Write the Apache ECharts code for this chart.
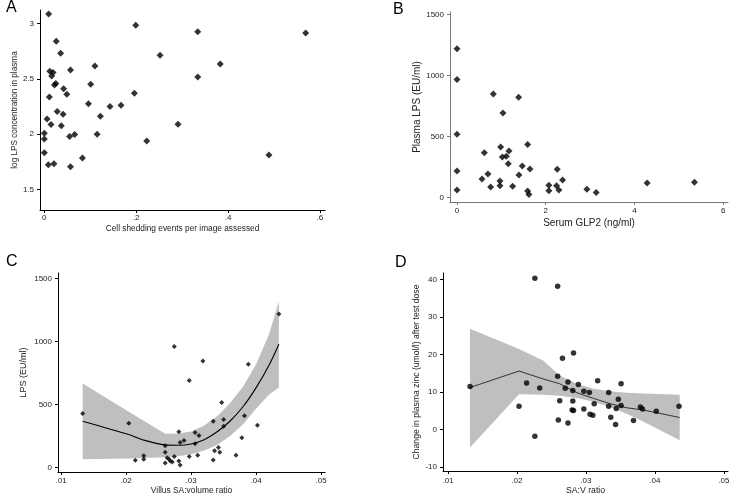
<!DOCTYPE html>
<html><head><meta charset="utf-8">
<script src="https://cdn.jsdelivr.net/npm/echarts@6/dist/echarts.min.js"></script>
<style>html,body{margin:0;padding:0;background:#fff}#c{width:738px;height:496px}</style>
</head><body><div id="c"></div>
<script>
// Panel A
const aX=[0.0094,0.199,0.334,0.569,0.026,0.0355,0.252,0.383,0.012,0.019,0.057,0.110,0.016,0.334,0.022,0.025,0.042,0.101,0.049,0.196,0.011,0.096,0.143,0.167,0.028,0.041,0.122,0.006,0.0145,0.037,0.291,0.0,0.0,0.055,0.066,0.115,0.223,0.0,0.489,0.083,0.0087,0.021,0.057];
const aY=[3.087,2.985,2.928,2.916,2.84,2.732,2.714,2.636,2.569,2.557,2.581,2.617,2.527,2.518,2.446,2.458,2.41,2.452,2.361,2.37,2.337,2.274,2.25,2.262,2.205,2.181,2.163,2.136,2.087,2.075,2.09,2.009,1.955,1.979,1.997,2.0,1.937,1.831,1.81,1.783,1.723,1.732,1.705];
const aXTicks=[0,0.2,0.4,0.6];
const aYTicks=[1.5,2,2.5,3];
// Panel B
const bX=[0,0,0,0,0,0.818,1.389,1.036,0.563,0.616,0.698,0.758,0.983,0.968,0.968,1.021,1.111,1.171,1.156,1.254,1.396,1.471,1.592,1.644,1.592,1.622,2.072,2.072,2.26,2.245,2.297,2.38,2.928,3.138,4.287,5.353];
const bY=[1219,966,518,218,63,848,821,693,153,368,194,87,415,136,98,333,338,382,278,93,185,259,434,235,55,25,101,57,232,98,63,145,68,41,120,125];
const bXTicks=[0,2,4,6];
const bYTicks=[0,500,1000,1500];
// Panel C
const cX=[0.0133,0.0204,0.0214,0.0227,0.0227,0.026,0.026,0.026,0.0263,0.0266,0.0268,0.0271,0.0274,0.0274,0.0281,0.0283,0.0281,0.0283,0.0289,0.0297,0.0297,0.0306,0.0306,0.0312,0.031,0.0318,0.0334,0.0334,0.0336,0.0342,0.0344,0.0347,0.035,0.035,0.0369,0.0378,0.0382,0.0388,0.0402,0.0435];
const cY=[430,352,58,95,66,173,121,37,79,66,53,45,89,961,284,200,53,21,215,691,89,278,189,255,97,846,368,60,134,160,121,517,381,328,97,236,412,820,336,1219];
const cFitX=[0.0133,0.0204,0.0227,0.026,0.028,0.030,0.032,0.034,0.036,0.038,0.040,0.042,0.0435];
const cFit=[368,262,218,180,177,188,222,285,370,485,635,815,980];
const cLo=[66,72,76,82,90,105,135,180,250,345,470,580,635];
const cHi=[668,444,372,268,270,286,334,407,512,644,820,1060,1321];
const cXTicks=[0.01,0.02,0.03,0.04,0.05];
const cYTicks=[0,500,1000,1500];
// Panel D
const dX=[0.0132,0.0203,0.0214,0.0226,0.0226,0.0233,0.0259,0.0259,0.026,0.0262,0.0266,0.027,0.0274,0.0274,0.0281,0.0281,0.028,0.0282,0.0282,0.0289,0.0297,0.0297,0.0305,0.0306,0.031,0.0312,0.0317,0.0333,0.0333,0.0336,0.0343,0.0344,0.0347,0.0351,0.0351,0.0369,0.0379,0.0382,0.0402,0.0435];
const dY=[11.5,6.2,12.4,40.4,-1.8,11.1,14.2,38.2,2.5,7.7,19.0,11.0,12.7,1.7,10.4,7.6,5.2,20.4,5.1,12.0,10.2,5.5,9.9,4.1,3.8,6.9,13.0,9.9,6.2,3.3,1.3,5.6,8.1,12.2,6.4,2.4,6.0,5.5,4.9,6.2];
const dFitX=[0.0132,0.0203,0.0238,0.0262,0.0287,0.0311,0.0335,0.0359,0.0383,0.0436];
const dFit=[11.2,15.6,13.5,12.2,9.8,8.3,6.9,5.8,5.2,3.2];
const dLo=[-4.8,9.4,9.3,9.0,8.4,7.4,6.0,4.2,2.1,-2.9];
const dHi=[26.9,21.5,18.4,14.4,12.2,10.9,10.2,9.8,9.6,9.3];
const dXTicks=[0.01,0.02,0.03,0.04,0.05];
const dYTicks=[-10,0,10,20,30,40];

const FONT='Liberation Sans';
function fmt(v){let s=String(+(+v).toFixed(4));return s.replace(/^0\./,'.').replace(/^-0\./,'-.');}
function zip(xs,ys){return xs.map((x,i)=>[x,ys[i]]);}
function axis(o){
  return {
    type:'value',gridIndex:o.g,min:o.min,max:o.max,
    name:o.name,nameLocation:'middle',nameGap:o.gap,nameRotate:o.rot||0,
    nameTextStyle:{fontFamily:FONT,fontSize:o.nfs,color:'#222'},
    axisLine:{show:true,onZero:false,lineStyle:{color:o.col,width:1}},
    axisTick:{show:true,length:3,inside:false,customValues:o.ticks,lineStyle:{color:o.col}},
    axisLabel:{show:true,customValues:o.ticks,formatter:fmt,fontFamily:FONT,fontSize:o.tfs||8,color:'#222',margin:o.lm},
    splitLine:{show:false}
  };
}
function band(xi,yi,xs,lo,hi){
  const rows=xs.map((x,i)=>[x,lo[i],hi[i]]);
  return {
    type:'custom',xAxisIndex:xi,yAxisIndex:yi,silent:true,z:1,clip:true,
    data:[rows[0]],
    encode:{x:0,y:[1,2]},
    renderItem:function(params,api){
      const top=rows.map(r=>api.coord([r[0],r[2]]));
      const bot=rows.slice().reverse().map(r=>api.coord([r[0],r[1]]));
      return {type:'polygon',shape:{points:top.concat(bot)},style:{fill:'#bfbfbf'}};
    }
  };
}
const chart=echarts.init(document.getElementById('c'),null,{renderer:'canvas'});
chart.setOption({
  animation:false,backgroundColor:'#fff',
  title:[
    {text:'A',left:6,top:0,padding:0,textStyle:{fontFamily:FONT,fontSize:16,fontWeight:'normal',color:'#000'}},
    {text:'B',left:393,top:2,padding:0,textStyle:{fontFamily:FONT,fontSize:16,fontWeight:'normal',color:'#000'}},
    {text:'C',left:6,top:254,padding:0,textStyle:{fontFamily:FONT,fontSize:16,fontWeight:'normal',color:'#000'}},
    {text:'D',left:395,top:255,padding:0,textStyle:{fontFamily:FONT,fontSize:16,fontWeight:'normal',color:'#000'}}
  ],
  grid:[
    {left:40,top:10,width:285,height:200},
    {left:450,top:12,width:278,height:190},
    {left:58,top:273,width:267,height:200.5},
    {left:443,top:273,width:285,height:200.3}
  ],
  xAxis:[
    axis({g:0,min:-0.0094,max:0.611,ticks:aXTicks,name:'Cell shedding events per image assessed',gap:15,nfs:8.3,col:'#000',lm:4}),
    axis({g:1,min:-0.158,max:6.11,ticks:bXTicks,name:'Serum GLP2 (ng/ml)',gap:16,nfs:10,col:'#777',lm:5}),
    axis({g:2,min:0.0095,max:0.0506,ticks:cXTicks,name:'Villus SA:volume ratio',gap:15,nfs:8.4,col:'#000',lm:5}),
    axis({g:3,min:0.00928,max:0.0506,ticks:dXTicks,name:'SA:V ratio',gap:15,nfs:8.7,col:'#000',lm:6})
  ],
  yAxis:[
    axis({g:0,min:1.313,max:3.124,ticks:aYTicks,name:'log LPS concentration in plasma',gap:21,rot:90,nfs:8.2,col:'#000',lm:6}),
    axis({g:1,min:-36,max:1519,ticks:bYTicks,name:'Plasma LPS (EU/ml)',gap:26,rot:90,nfs:10,col:'#777',lm:6}),
    axis({g:2,min:-35,max:1545,ticks:cYTicks,name:'LPS (EU/ml)',gap:30,rot:90,nfs:9,col:'#000',lm:6}),
    axis({g:3,min:-11.08,max:41.77,ticks:dYTicks,name:'Change in plasma zinc (umol/l) after test dose',gap:21,rot:90,nfs:8.6,col:'#000',lm:6})
  ],
  series:[
    {type:'scatter',xAxisIndex:0,yAxisIndex:0,data:zip(aX,aY),symbol:'diamond',symbolSize:7,itemStyle:{color:'#000'}},
    {type:'scatter',xAxisIndex:1,yAxisIndex:1,data:zip(bX,bY),symbol:'diamond',symbolSize:7,itemStyle:{color:'#000'}},
    band(2,2,cFitX,cLo,cHi),
    {type:'line',xAxisIndex:2,yAxisIndex:2,data:zip(cFitX,cFit),symbol:'none',smooth:0.3,lineStyle:{color:'#000',width:1.1},z:3},
    {type:'scatter',xAxisIndex:2,yAxisIndex:2,data:zip(cX,cY),symbol:'diamond',symbolSize:5,itemStyle:{color:'#000'},z:4},
    band(3,3,dFitX,dLo,dHi),
    {type:'line',xAxisIndex:3,yAxisIndex:3,data:zip(dFitX,dFit),symbol:'none',lineStyle:{color:'#222',width:0.9},z:3},
    {type:'scatter',xAxisIndex:3,yAxisIndex:3,data:zip(dX,dY),symbol:'circle',symbolSize:5.5,itemStyle:{color:'#000'},z:4}
  ]
});
</script></body></html>
